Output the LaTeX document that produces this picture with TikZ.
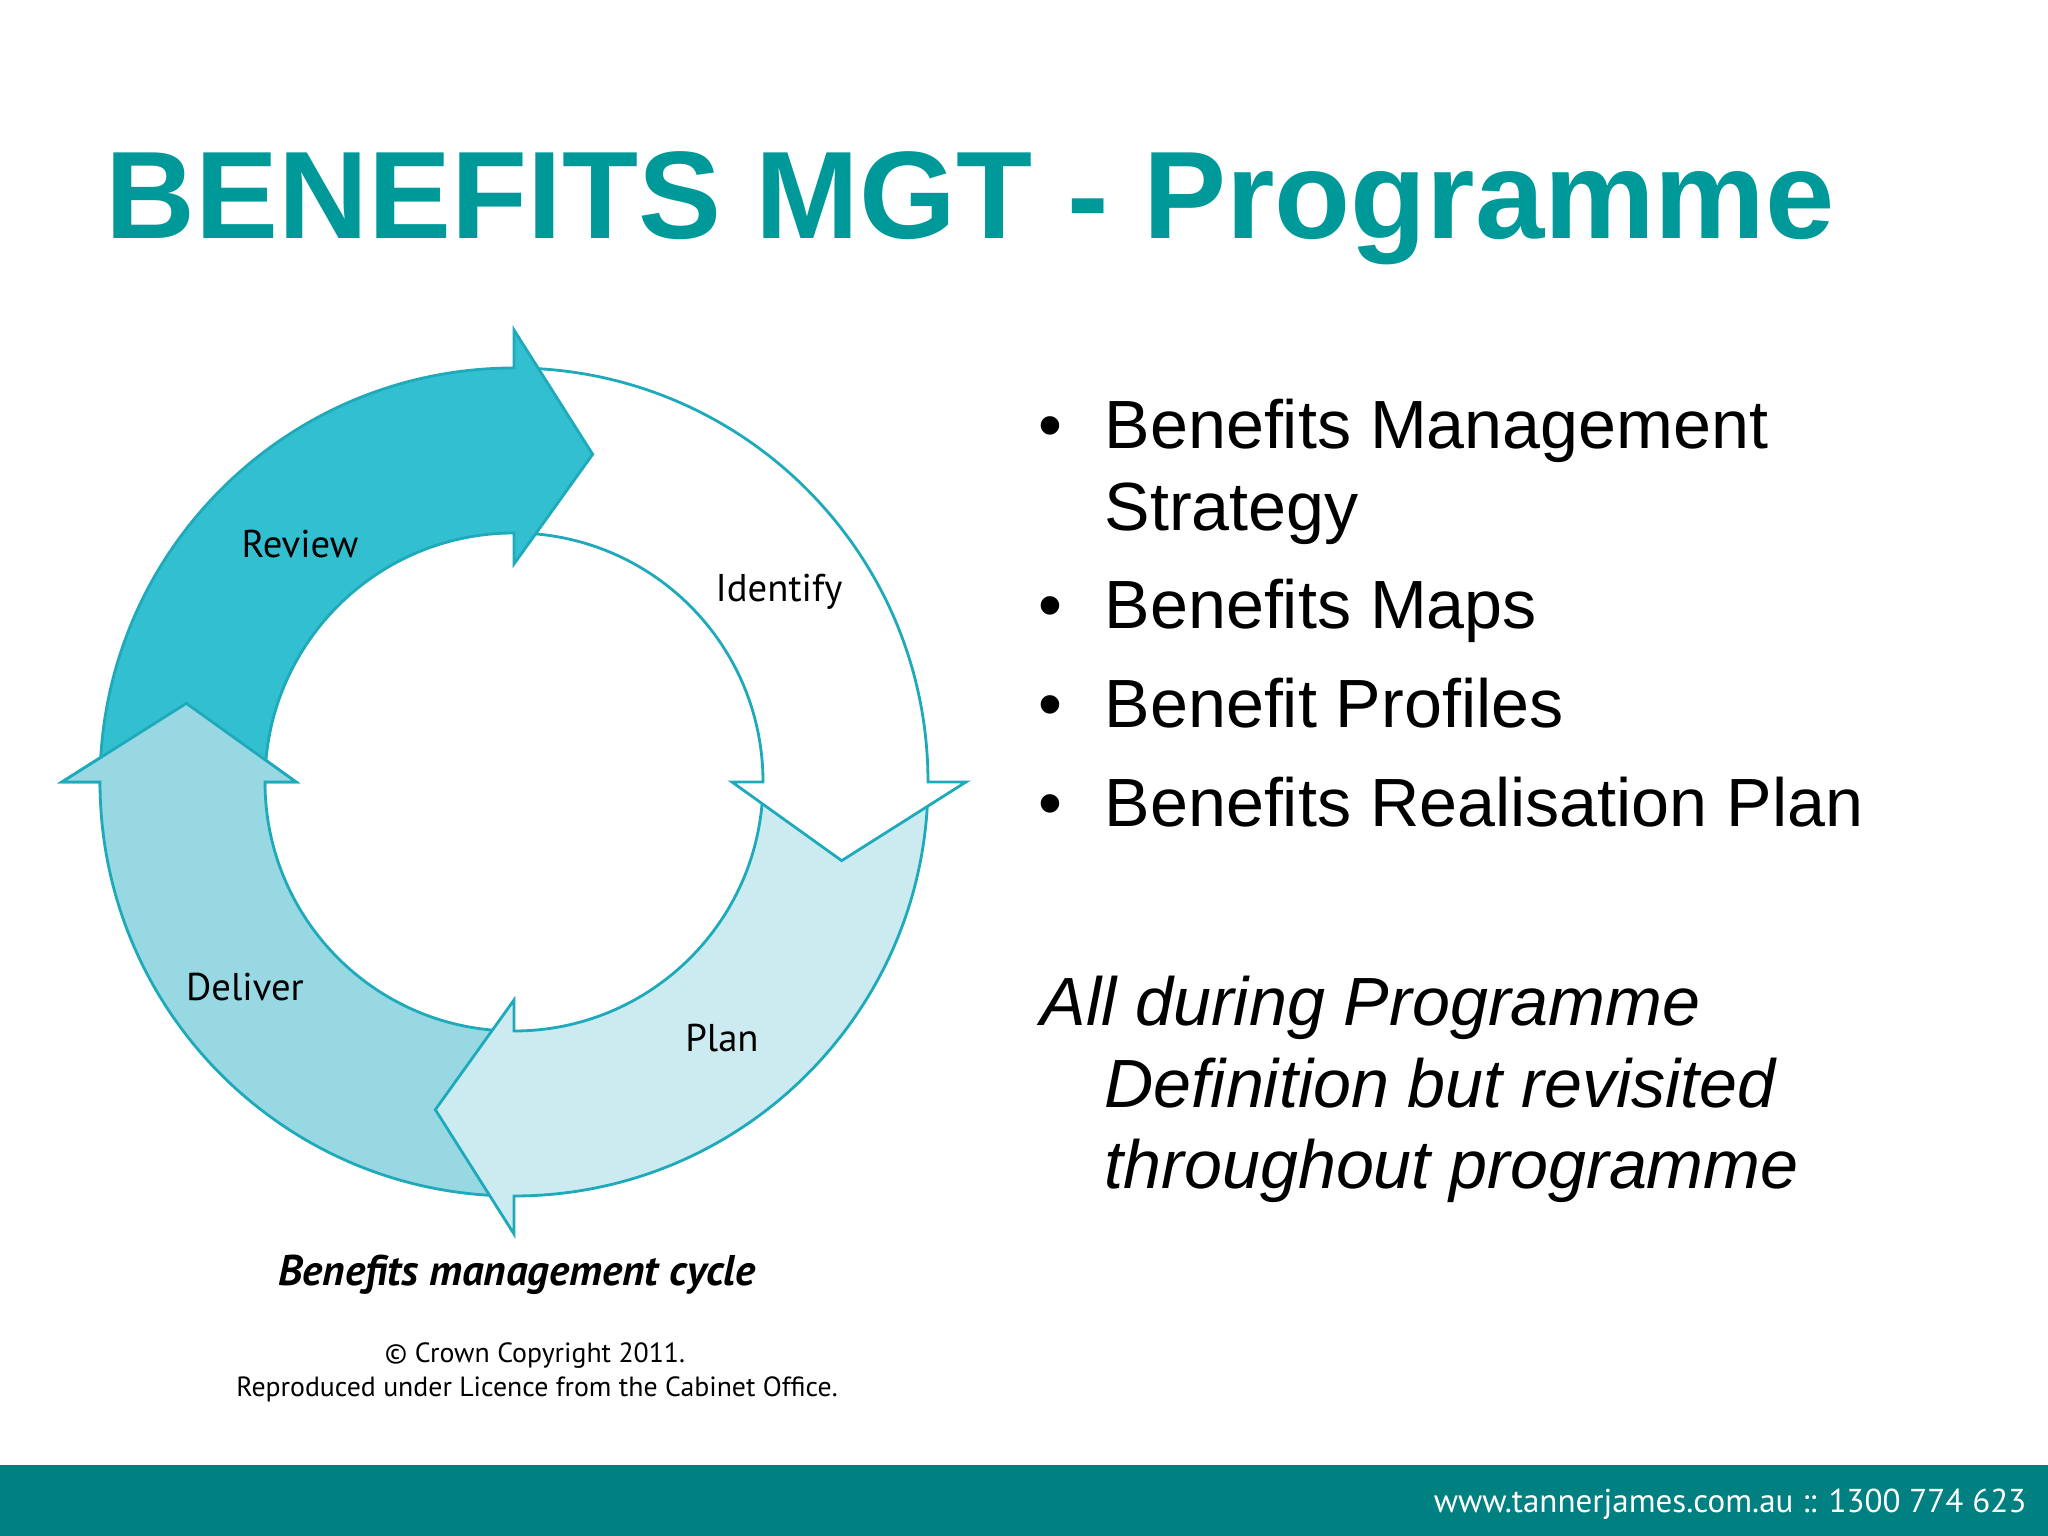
\documentclass[tikz,border=0pt]{standalone}
\usepackage{fontspec}
\setmainfont{Liberation Sans}
\newfontfamily\cyclefont{PT Sans}

\definecolor{titleteal}{RGB}{0,153,153}
\definecolor{barteal}{RGB}{0,128,128}
\definecolor{ringline}{RGB}{30,170,186}
\definecolor{reviewfill}{RGB}{50,191,208}
\definecolor{deliverfill}{RGB}{152,216,227}
\definecolor{planfill}{RGB}{203,235,240}

\tikzset{
  ring/.style={draw=ringline, line width=0.8pt, line join=miter},
  titletext/.style={inner sep=0pt, anchor=base west, text=titleteal, font=\fontsize{35.4}{40}\selectfont\bfseries},
  itemtext/.style={inner sep=0pt, anchor=base west, font=\fontsize{19.4}{23}\selectfont},
  itembullet/.style={inner sep=0pt, anchor=base, font=\fontsize{19.4}{23}\selectfont},
  notetext/.style={inner sep=0pt, anchor=base west, font=\fontsize{19.4}{23}\selectfont\itshape},
  phaselabel/.style={inner sep=0pt, anchor=base, font=\cyclefont\fontsize{11}{13}\selectfont},
  cyclecaption/.style={inner sep=0pt, anchor=base, font=\cyclefont\fontsize{12.2}{14}\selectfont\bfseries\itshape},
  credittext/.style={inner sep=0pt, anchor=base, font=\cyclefont\fontsize{7.9}{9.5}\selectfont},
  footertext/.style={inner sep=0pt, anchor=base east, text=white, font=\cyclefont\fontsize{9.4}{11}\selectfont}
}

% one quarter of the ring, running clockwise: #1 tail angle, #2 fill
\newcommand{\ringarrow}[2]{%
  \filldraw[ring, fill=#2] (#1:414) arc[start angle=#1, end angle=#1-90, radius=414]
    -- (#1-90:452) -- (#1-103.5:337) -- (#1-90:218) -- (#1-90:249)
    arc[start angle=#1-90, end angle=#1, radius=249] -- cycle;}

\begin{document}
\begin{tikzpicture}[x=0.01cm, y=0.01cm]
\useasboundingbox (0,0) rectangle (2048,1536);
\fill[white] (0,0) rectangle (2048,1536);

% Title
\node[titletext] (title) at (105,1297) {BENEFITS MGT - Programme};

% Benefits management cycle (tails are hidden under the previous head)
\begin{scope}[shift={(514,754)}]
\ringarrow{-90}{deliverfill}
\ringarrow{0}{planfill}
\ringarrow{90}{white}
\ringarrow{180}{reviewfill}
% put the Deliver head back over the Review tail
\begin{scope}
\clip (-480,-5) rectangle (0,480);
\ringarrow{-90}{deliverfill}
\end{scope}
\end{scope}

\node[phaselabel] (review) at (300,978) {Review};
\node[phaselabel] (identify) at (779,934) {Identify};
\node[phaselabel] (plan) at (722,484) {Plan};
\node[phaselabel] (deliver) at (245,535) {Deliver};

\node[cyclecaption] (caption) at (517,250) {Benefits management cycle};
\node[credittext] (credit1) at (535,173) {© Crown Copyright 2011.};
\node[credittext] (credit2) at (537,139) {Reproduced under Licence from the Cabinet Office.};

% Bullet list
\node[itembullet] (bul1) at (1050,1087) {•};
\node[itemtext] (item1a) at (1104,1087) {Benefits Management};
\node[itemtext] (item1b) at (1104,1005) {Strategy};
\node[itembullet] (bul2) at (1050,907) {•};
\node[itemtext] (item2) at (1104,907) {Benefits Maps};
\node[itembullet] (bul3) at (1050,808) {•};
\node[itemtext] (item3) at (1104,808) {Benefit Profiles};
\node[itembullet] (bul4) at (1050,709) {•};
\node[itemtext] (item4) at (1104,709) {Benefits Realisation Plan};

% Note
\node[notetext] (note1) at (1040,510) {All during Programme};
\node[notetext] (note2) at (1104,428) {Definition but revisited};
\node[notetext] (note3) at (1104,347) {throughout programme};

% Footer bar
\fill[barteal] (0,0) rectangle (2048,71);
\node[footertext] (footer) at (2027,23) {www.tannerjames.com.au :: 1300 774 623};
\end{tikzpicture}
\end{document}
